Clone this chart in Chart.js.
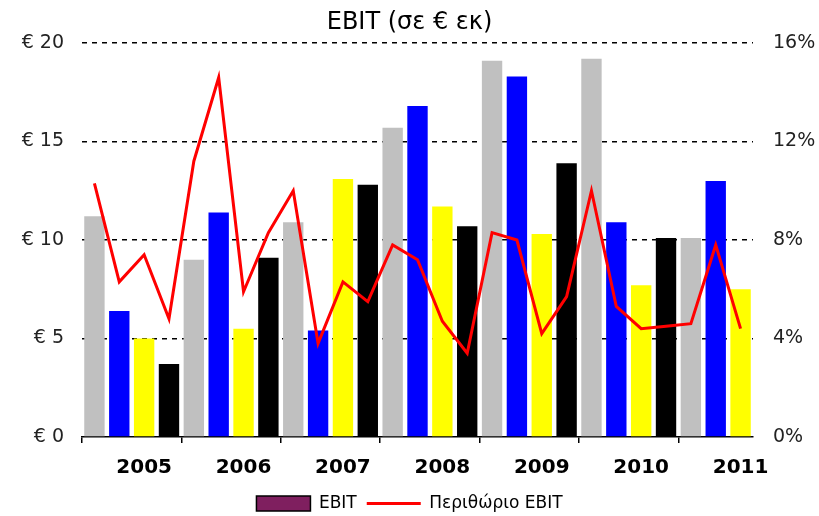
<!DOCTYPE html>
<html>
<head>
<meta charset="utf-8">
<script src="https://cdn.jsdelivr.net/npm/chart.js@4/dist/chart.umd.min.js"></script>
<style>
  html, body { margin: 0; padding: 0; background: #fff; }
  #wrap { width: 819px; height: 516px; }
</style>
</head>
<body>
<div id="wrap"><canvas id="ebitChart" width="819" height="516"></canvas></div>
<script>
// Years on the axis, 4 quarters each (2011 has 3)
var years = ['2005', '2006', '2007', '2008', '2009', '2010', '2011'];
var quarters = ['Q1', 'Q2', 'Q3', 'Q4'];
var quarterColors = ['#C0C0C0', '#0000FF', '#FFFF00', '#000000'];

// EBIT per quarter (€ million)
var ebit = [
  11.2, 6.4, 5.0, 3.7,
  9.0, 11.4, 5.5, 9.1,
  10.9, 5.4, 13.1, 12.8,
  15.7, 16.8, 11.7, 10.7,
  19.1, 18.3, 10.3, 13.9,
  19.2, 10.9, 7.7, 10.1,
  10.1, 13.0, 7.5
];

// EBIT margin per quarter (%)
var margin = [
  10.3, 6.3, 7.4, 4.8,
  11.2, 14.6, 5.9, 8.3,
  10.0, 3.8, 6.3, 5.5,
  7.8, 7.2, 4.7, 3.4,
  8.3, 8.0, 4.2, 5.7,
  10.0, 5.3, 4.4, 4.5,
  4.6, 7.8, 4.4
];

var leftTicks = [0, 5, 10, 15, 20];
var rightTicks = [0, 4, 8, 12, 16];

var labels = [];
var barColors = [];
for (var i = 0; i < ebit.length; i++) {
  labels.push(years[Math.floor(i / 4)] + ' ' + quarters[i % 4]);
  barColors.push(quarterColors[i % 4]);
}

Chart.defaults.font.family = "'DejaVu Sans', Verdana, sans-serif";
Chart.defaults.color = '#222';

var ctx = document.getElementById('ebitChart').getContext('2d');

var ebitChart = new Chart(ctx, {
  data: {
    labels: labels,
    datasets: [{
      type: 'line',
      label: 'Περιθώριο EBIT',
      data: margin,
      yAxisID: 'yRight',
      borderColor: '#FF0000',
      backgroundColor: '#FF0000',
      borderWidth: 3,
      pointRadius: 0,
      pointStyle: 'line',
      tension: 0,
      order: 0
    }, {
      type: 'bar',
      label: 'EBIT',
      data: ebit,
      yAxisID: 'y',
      backgroundColor: barColors,
      borderWidth: 0,
      barPercentage: 0.82,
      categoryPercentage: 1.0,
      pointStyle: 'rect',
      order: 1
    }]
  },
  options: {
    responsive: false,
    animation: false,
    layout: { padding: { left: 0, right: 0, top: 0, bottom: -6 } },
    scales: {
      x: {
        offset: true,
        border: { display: true, color: '#000', width: 1.5 },
        grid: {
          offset: true,
          drawOnChartArea: false,
          drawTicks: true,
          tickLength: 6,
          lineWidth: 1.5,
          color: function (c) {
            return (c.index !== undefined && c.index % 4 === 0) ? '#000' : 'rgba(0,0,0,0)';
          }
        },
        ticks: {
          autoSkip: false,
          maxRotation: 0,
          padding: 13,
          color: '#000',
          font: { size: 20, weight: 'bold' },
          callback: function (value, index) {
            return index % 4 === 2 ? years[Math.floor(index / 4)] : '';
          }
        },
        afterFit: function (scale) { scale.height = 48; }
      },
      y: {
        position: 'left',
        min: 0,
        max: 20,
        afterBuildTicks: function (scale) {
          scale.ticks = leftTicks.map(function (v) { return { value: v }; });
        },
        border: { display: false, dash: [5, 5] },
        grid: {
          drawTicks: false,
          lineWidth: 1.5,
          color: function (c) {
            return c.tick && c.tick.value === 0 ? 'rgba(0,0,0,0)' : '#000';
          }
        },
        ticks: {
          padding: 18,
          font: { size: 19 },
          callback: function (v) { return '€ ' + v; }
        },
        afterFit: function (scale) { scale.width = 82; }
      },
      yRight: {
        position: 'right',
        min: 0,
        max: 16,
        afterBuildTicks: function (scale) {
          scale.ticks = rightTicks.map(function (v) { return { value: v }; });
        },
        border: { display: false },
        grid: { drawOnChartArea: false, drawTicks: false },
        ticks: {
          padding: 20,
          font: { size: 19 },
          callback: function (v) { return v + '%'; }
        },
        afterFit: function (scale) { scale.width = 66; }
      }
    },
    plugins: {
      title: {
        display: true,
        text: 'EBIT (σε € εκ)',
        color: '#000',
        font: { size: 24, weight: 'normal' },
        padding: { top: 8, bottom: 6.2 }
      },
      legend: {
        position: 'bottom',
        reverse: true,
        labels: {
          usePointStyle: true,
          pointStyleWidth: 54,
          boxHeight: 15,
          padding: 10,
          color: '#000',
          font: { size: 17, lineHeight: 1 },
          generateLabels: function (chart) {
            var items = Chart.defaults.plugins.legend.labels.generateLabels(chart);
            items.forEach(function (it) {
              if (it.datasetIndex === 1) {
                it.fillStyle = '#7F1F5F';
                it.strokeStyle = '#000';
                it.lineWidth = 1.5;
              } else {
                it.strokeStyle = '#FF0000';
                it.lineWidth = 3;
              }
            });
            return items;
          }
        }
      },
      tooltip: { enabled: false }
    }
  }
});
</script>
</body>
</html>
